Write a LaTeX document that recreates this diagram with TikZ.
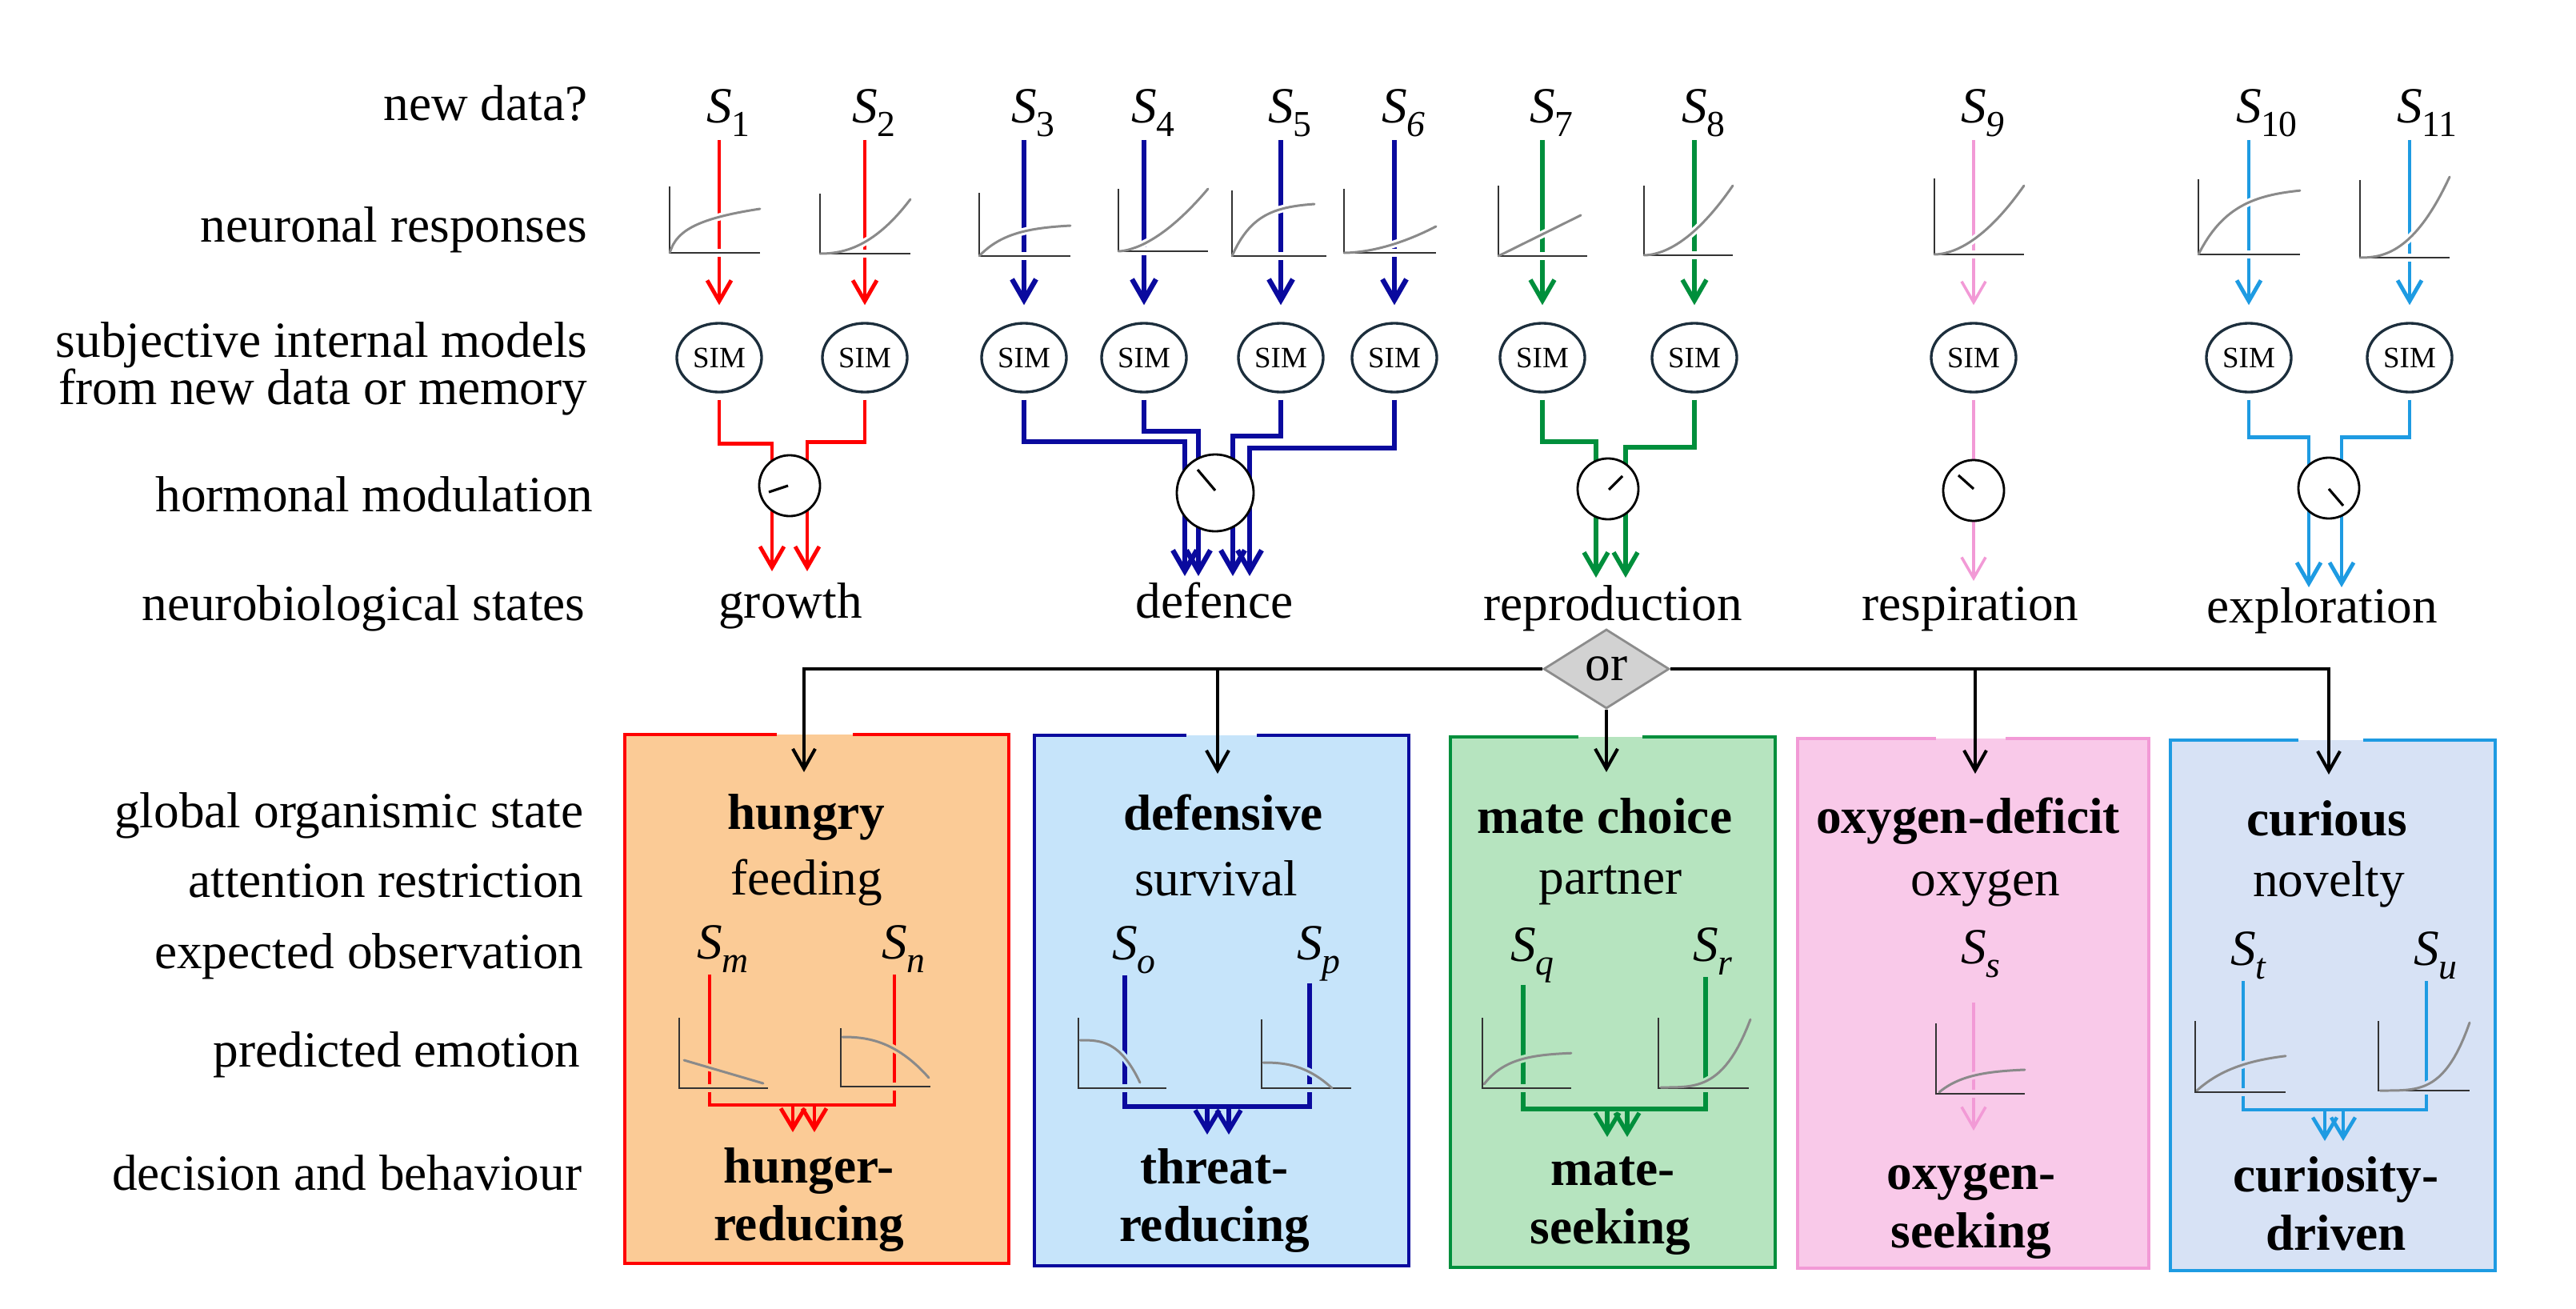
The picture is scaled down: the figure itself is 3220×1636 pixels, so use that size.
\documentclass[tikz,border=0pt]{standalone}
\usepackage{fontspec}
\setmainfont{Liberation Serif}
\usetikzlibrary{arrows.meta}
\usetikzlibrary{calc}
\usetikzlibrary{positioning}
\usetikzlibrary{shapes.geometric}

\definecolor{growthc}{HTML}{FF0000}
\definecolor{growthf}{HTML}{FBCB96}
\definecolor{defencec}{HTML}{0A0A9E}
\definecolor{defencef}{HTML}{C6E4FA}
\definecolor{reproc}{HTML}{008F3C}
\definecolor{reprof}{HTML}{B6E4BF}
\definecolor{respc}{HTML}{F29AD6}
\definecolor{respf}{HTML}{F9C9E9}
\definecolor{explc}{HTML}{1E9BE2}
\definecolor{explf}{HTML}{D7E2F5}
\definecolor{simc}{HTML}{1C2E3C}
\definecolor{curvec}{HTML}{8A8A8A}
\definecolor{axisc}{HTML}{333333}
\definecolor{orf}{HTML}{D2D2D2}
\definecolor{ord}{HTML}{8C8C8C}

\newcommand{\Sx}[1]{\textit{S}\kern-0.02em\raisebox{-0.27em}{\fontsize{13}{13}\selectfont #1}}
\newcommand{\resp}[6]{%
  \begin{scope}[shift={(#1,#2)}]
    \draw[halo=#5] (0,-#4) |- (#3,0);
    \draw[halo=#5] plot[domain=0.001:1,samples=30] (#6);
    \draw[respaxis] (0,-#4) |- (#3,0);
    \draw[respcurve] plot[domain=0.001:1,samples=30] (#6);
  \end{scope}}

\begin{document}
\begin{tikzpicture}[x=0.01cm,y=-0.01cm,
  every node/.style={font=\fontsize{18}{21}\selectfont},
  rowlabel/.style={anchor=base east,inner sep=0},
  slab/.style={anchor=base west,inner sep=0},
  statelabel/.style={anchor=base,inner sep=0},
  boxtext/.style={anchor=base,inner sep=0},
  sim/.style={ellipse,draw=simc,line width=0.95pt,fill=white,minimum width=1.06cm,
    minimum height=0.86cm,inner sep=0,font=\fontsize{10.5}{12}\selectfont},
  dial/.style={circle,draw,fill=white,line width=0.8pt,minimum size=0.76cm,inner sep=0},
  needle/.style={line width=0.9pt},
  flow/.style={line width=1.4pt,-{Straight Barb[length=2.6mm,width=3mm]}},
  fork/.style={line width=1.4pt,-{Straight Barb[length=2.5mm,width=3mm]}},
  link/.style={line width=1.15pt,-{Straight Barb[length=2.5mm,width=2.8mm]}},
  stagebox/.style={inner sep=0,outer sep=0},
  frame/.style={line width=1.3pt},
  ornode/.style={diamond,fill=orf,draw=ord,line width=0.8pt,minimum width=1.57cm,
    minimum height=0.99cm,inner sep=0},
  respaxis/.style={draw=axisc,line width=0.7pt},
  respcurve/.style={draw=curvec,line width=0.85pt,line cap=round},
  halo/.style={draw=#1,line width=2.6pt}]

  \useasboundingbox (0,0) rectangle (3220,1636);

  \node[rowlabel] (lnew)   at (735,150)  {new data?};
  \node[rowlabel] (lresp)  at (735,302)  {neuronal responses};
  \node[rowlabel] (lsim)   at (735,446)  {subjective internal models};
  \node[rowlabel] (lmem)   at (735,505)  {from new data or memory};
  \node[rowlabel] (lhorm)  at (742,639)  {hormonal modulation};
  \node[rowlabel] (lstate) at (732,775)  {neurobiological states};
  \node[rowlabel] (lglob)  at (730,1034) {global organismic state};
  \node[rowlabel] (latt)   at (730,1121) {attention restriction};
  \node[rowlabel] (lexp)   at (730,1210) {expected observation};
  \node[rowlabel] (lemo)   at (726,1333) {predicted emotion};
  \node[rowlabel] (ldec)   at (728,1487) {decision and behaviour};

  \foreach \n/\lx/\sub/\col/\lw in {1/899/1/growthc/1.4pt, 2/1081/2/growthc/1.4pt,
      3/1280/3/defencec/1.8pt, 4/1430/4/defencec/1.8pt, 5/1601/5/defencec/1.8pt,
      6/1743/\textit{6}/defencec/1.8pt, 7/1928/7/reproc/1.6pt, 8/2118/8/reproc/1.6pt,
      9/2467/\textit{9}/respc/1pt, 10/2811/10/explc/1.4pt, 11/3012/11/explc/1.4pt} {
    \node[slab] (s\n) at (\lx-16,153) {\Sx{\sub}};
    \node[sim] (sim\n) at (\lx,447) {SIM};
    \draw[flow,color=\col,line width=\lw,shorten <=0.4mm,shorten >=2.1mm]
      (sim\n |- s\n.south) -- (sim\n.north);
  }

  \resp{837}{316}{113}{83}{white}{{113*\x},{-55*ln(1+20*\x)/ln(21)}}
  \resp{1025}{317}{113}{75}{white}{{113*\x},{-68*\x^2.2}}
  \resp{1224}{320}{114}{79}{white}{{114*\x},{-40*(1-exp(-3*\x))}}
  \resp{1398}{314}{112}{78}{white}{{112*\x},{-78*\x^1.7}}
  \resp{1540}{320}{118}{82}{white}{{103*\x},{-67*(1-exp(-3.5*\x))}}
  \resp{1680}{316}{115}{80}{white}{{115*\x},{-33*\x^1.8}}
  \resp{1873}{320}{111}{88}{white}{{103*\x},{-51*\x}}
  \resp{2055}{319}{111}{87}{white}{{111*\x},{-87*\x^1.85}}
  \resp{2418}{318}{112}{95}{white}{{112*\x},{-86*\x^1.85}}
  \resp{2748}{318}{127}{94}{white}{{127*\x},{-84*(1-exp(-3*\x))}}
  \resp{2950}{322}{112}{97}{white}{{112*\x},{-101*\x^2.4}}

  \coordinate (dA) at (987,607);
  \coordinate (dB) at (1519,616);
  \coordinate (dC) at (2010,611);
  \coordinate (dD) at (2467,613);
  \coordinate (dE) at (2911,610);

  \draw[flow,growthc,shorten <=0.8mm] (sim1.south) -- ++(0,63) -| ($(dA)+(-22,107)$);
  \draw[flow,growthc,shorten <=0.8mm] (sim2.south) -- ++(0,61) -| ($(dA)+(22,107)$);
  \draw[flow,defencec,line width=1.8pt,shorten <=0.8mm] (sim3.south) -- ++(0,60) -| ($(dB)+(-38,104)$);
  \draw[flow,defencec,line width=1.8pt,shorten <=0.8mm] (sim4.south) -- ++(0,47) -| ($(dB)+(-21,104)$);
  \draw[flow,defencec,line width=1.8pt,shorten <=0.8mm] (sim5.south) -- ++(0,53) -| ($(dB)+(22,104)$);
  \draw[flow,defencec,line width=1.8pt,shorten <=0.8mm] (sim6.south) -- ++(0,68) -| ($(dB)+(43,104)$);
  \draw[flow,reproc,line width=1.6pt,shorten <=0.8mm] (sim7.south) -- ++(0,60) -| ($(dC)+(-15,111)$);
  \draw[flow,reproc,line width=1.6pt,shorten <=0.8mm] (sim8.south) -- ++(0,67) -| ($(dC)+(22,111)$);
  \draw[flow,respc,line width=1pt,shorten <=0.8mm] (sim9.south) -- ($(dD)+(0,113)$);
  \draw[flow,explc,shorten <=0.8mm] (sim10.south) -- ++(0,55) -| ($(dE)+(-25,124)$);
  \draw[flow,explc,shorten <=0.8mm] (sim11.south) -- ++(0,55) -| ($(dE)+(16,124)$);

  \node[dial] (dialA) at (dA) {};
  \draw[needle] ($(dialA)+(-2,0)$) -- ($(dialA)+(-26,8)$);
  \node[dial,minimum size=0.96cm] (dialB) at (dB) {};
  \draw[needle] ($(dialB)+(0,-3)$) -- ($(dialB)+(-22,-29)$);
  \node[dial] (dialC) at (dC) {};
  \draw[needle] ($(dialC)+(1,1)$) -- ($(dialC)+(18,-16)$);
  \node[dial] (dialD) at (dD) {};
  \draw[needle] ($(dialD)+(0,-2)$) -- ($(dialD)+(-19,-19)$);
  \node[dial] (dialE) at (dE) {};
  \draw[needle] ($(dialE)+(0,1)$) -- ($(dialE)+(18,22)$);

  \node[statelabel] (growth)       at (988,772)  {growth};
  \node[statelabel] (defence)      at (1518,772) {defence};
  \node[statelabel] (reproduction) at (2016,775) {reproduction};
  \node[statelabel] (respiration)  at (2463,775) {respiration};
  \node[statelabel] (exploration)  at (2903,778) {exploration};

  \node[stagebox,fill=growthf,minimum width=4.8cm,minimum height=6.61cm] (boxA) at (1021,1248.5) {};
  \node[stagebox,fill=defencef,minimum width=4.68cm,minimum height=6.63cm] (boxB) at (1527,1250.5) {};
  \node[stagebox,fill=reprof,minimum width=4.06cm,minimum height=6.63cm] (boxC) at (2016,1252.5) {};
  \node[stagebox,fill=respf,minimum width=4.39cm,minimum height=6.62cm] (boxD) at (2466.5,1254) {};
  \node[stagebox,fill=explf,minimum width=4.06cm,minimum height=6.63cm] (boxE) at (2916,1256.5) {};
  \draw[frame,growthc] (1066,0 |- boxA.north) -| (boxA.south east) -| (boxA.north west) -- (971,0 |- boxA.north);
  \draw[frame,defencec] (1571,0 |- boxB.north) -| (boxB.south east) -| (boxB.north west) -- (1483,0 |- boxB.north);
  \draw[frame,reproc] (2053,0 |- boxC.north) -| (boxC.south east) -| (boxC.north west) -- (1973,0 |- boxC.north);
  \draw[frame,respc] (2507,0 |- boxD.north) -| (boxD.south east) -| (boxD.north west) -- (2420,0 |- boxD.north);
  \draw[frame,explc] (2954,0 |- boxE.north) -| (boxE.south east) -| (boxE.north west) -- (2873,0 |- boxE.north);

  \node[ornode] (choice) at (2008,836) {or};
  \coordinate (inA) at (1005,965);
  \coordinate (inB) at (1522,967);
  \coordinate (inC) at (2008,965);
  \coordinate (inD) at (2469,967);
  \coordinate (inE) at (2911,968);
  \draw[link] (choice.west) -| (inA);
  \draw[link] (choice.east) -| (inE);
  \draw[link] (inB |- choice.west) -- (inB);
  \draw[link] (inD |- choice.east) -- (inD);
  \draw[link] (choice.south) -- (inC);

  \node[slab] (sm) at (871,1198)  {\Sx{\textit{m}}};
  \node[slab] (sn) at (1102,1198) {\Sx{\textit{n}}};
  \node[slab] (so) at (1390,1199) {\Sx{\textit{o}}};
  \node[slab] (sp) at (1621,1199) {\Sx{\textit{p}}};
  \node[slab] (sq) at (1888,1201) {\Sx{\textit{q}}};
  \node[slab] (sr) at (2116,1201) {\Sx{\textit{r}}};
  \node[slab] (ss) at (2451,1204) {\Sx{\textit{s}}};
  \node[slab] (st) at (2788,1206) {\Sx{\textit{t}}};
  \node[slab] (su) at (3017,1206) {\Sx{\textit{u}}};

  \coordinate (tA1) at (991,1415);
  \coordinate (tA2) at (1018,1415);
  \coordinate (tB1) at (1509,1418);
  \coordinate (tB2) at (1536,1418);
  \coordinate (tC1) at (2009,1421);
  \coordinate (tC2) at (2034,1421);
  \coordinate (tD)  at (2467,1413);
  \coordinate (tE1) at (2906,1426);
  \coordinate (tE2) at (2929,1426);
  \draw[fork,growthc] ($(sm.south west)+(16,2)$) |- ($(tA2)+(0,-34)$) -- (tA2);
  \draw[fork,growthc] ($(sn.south west)+(16,2)$) |- ($(tA1)+(0,-34)$) -- (tA1);
  \draw[fork,defencec,line width=1.6pt] ($(so.south west)+(16,2)$) |- ($(tB2)+(0,-35)$) -- (tB2);
  \draw[fork,defencec,line width=1.6pt] ($(sp.south west)+(16,2)$) |- ($(tB1)+(0,-35)$) -- (tB1);
  \draw[fork,reproc,line width=1.5pt] ($(sq.south west)+(16,2)$) |- ($(tC2)+(0,-35)$) -- (tC2);
  \draw[fork,reproc,line width=1.5pt] ($(sr.south west)+(16,2)$) |- ($(tC1)+(0,-35)$) -- (tC1);
  \draw[flow,respc,line width=1pt] ($(ss.south west)+(16,31)$) -- (tD);
  \draw[fork,explc,line width=1.3pt] ($(st.south west)+(16,2)$) |- ($(tE2)+(0,-39)$) -- (tE2);
  \draw[fork,explc,line width=1.3pt] ($(su.south west)+(16,2)$) |- ($(tE1)+(0,-39)$) -- (tE1);

  \resp{849}{1360}{111}{88}{growthf}{{6+99*\x},{-35+29*\x}}
  \resp{1051}{1358}{112}{73}{growthf}{{2+108*\x},{-62+51*\x^2.4}}
  \resp{1348}{1360}{110}{88}{defencef}{{2+75*\x},{-60+53*\x^3}}
  \resp{1577}{1360}{112}{86}{defencef}{{2+86*\x},{-32+32*\x^2.5}}
  \resp{1853}{1360}{111}{88}{reprof}{{2+109*\x},{-5-40*(1-exp(-3.5*\x))}}
  \resp{2073}{1360}{113}{88}{reprof}{{3+112*\x},{-1-85*\x^3.5}}
  \resp{2420}{1367}{111}{88}{respf}{{4+107*\x},{-2-29.5*(1-exp(-3*\x))}}
  \resp{2744}{1365}{113}{89}{explf}{{2+111*\x},{-2-50*(1-exp(-2*\x))}}
  \resp{2973}{1363}{114}{87}{explf}{{2+112*\x},{-85*\x^3.8}}

  \node[boxtext] (hungry)   at (1008,1036) {\textbf{hungry}};
  \node[boxtext] (feeding)  at (1008,1118) {feeding};
  \node[boxtext] (hungerA)  at (1011,1478) {\textbf{hunger-}};
  \node[boxtext] (hungerB)  at (1011,1550) {\textbf{reducing}};
  \node[boxtext] (defensive) at (1529,1037) {\textbf{defensive}};
  \node[boxtext] (survival) at (1520,1119) {survival};
  \node[boxtext] (threatA)  at (1518,1479) {\textbf{threat-}};
  \node[boxtext] (threatB)  at (1518,1551) {\textbf{reducing}};
  \node[boxtext] (mate)     at (2006,1041) {\textbf{mate choice}};
  \node[boxtext] (partner)  at (2013,1117) {partner};
  \node[boxtext] (mateA)    at (2016,1481) {\textbf{mate-}};
  \node[boxtext] (mateB)    at (2013,1554) {\textbf{seeking}};
  \node[boxtext] (deficit)  at (2460,1041) {\textbf{oxygen-deficit}};
  \node[boxtext] (oxygen)   at (2482,1119) {oxygen};
  \node[boxtext] (oxygenA)  at (2464,1486) {\textbf{oxygen-}};
  \node[boxtext] (oxygenB)  at (2464,1559) {\textbf{seeking}};
  \node[boxtext] (curious)  at (2909,1044) {\textbf{curious}};
  \node[boxtext] (novelty)  at (2911,1120) {novelty};
  \node[boxtext] (curiousA) at (2920,1489) {\textbf{curiosity-}};
  \node[boxtext] (curiousB) at (2920,1562) {\textbf{driven}};
\end{tikzpicture}
\end{document}
